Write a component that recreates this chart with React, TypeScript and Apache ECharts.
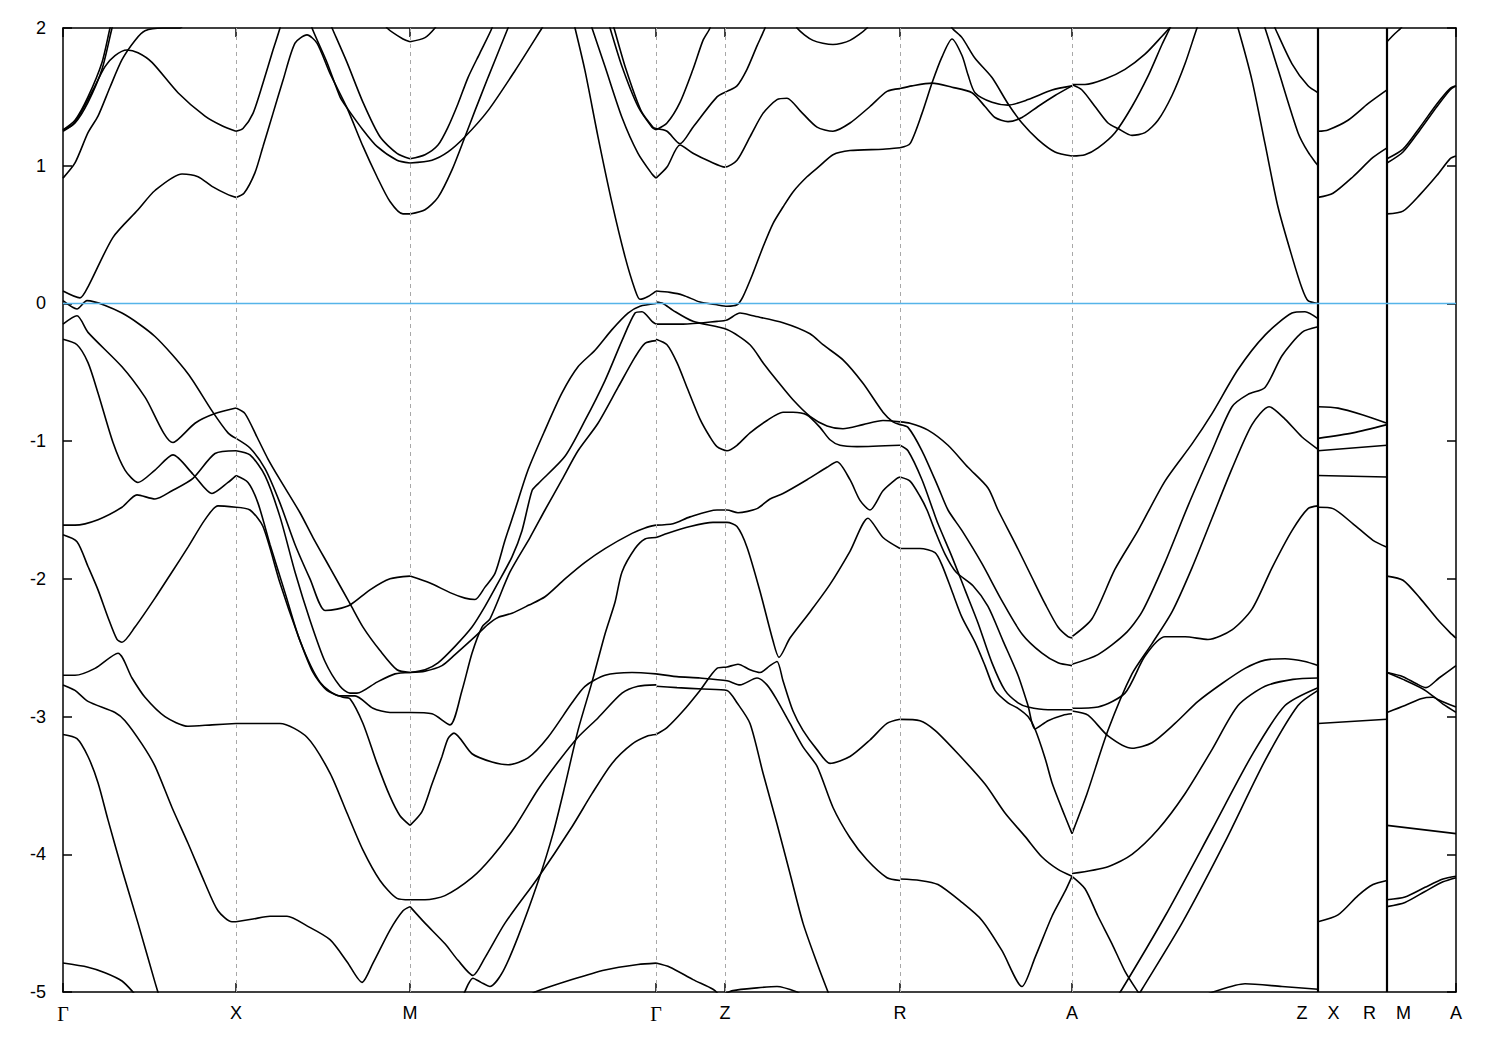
import React, { useEffect, useRef } from 'react';
import * as echarts from 'echarts';

// k-path distance (arbitrary units) of the high-symmetry points
const K_TICKS = [0, 173, 347, 593, 662, 837, 1009, 1255, 1324, 1393];
const K_LABELS = ['Γ', 'X', 'M', 'Γ', 'Z', 'R', 'A', 'Z    X', 'R    M', 'A'];
const K_GRID = [173, 347, 593, 662, 837, 1009];
const K_BREAKS = [1255, 1324];
const E_MIN = -5;
const E_MAX = 2;
const E_FERMI = 0;

// ---- bands: flat [k, E(eV), k, E, ...] ----
// Γ-X
const gxC1 = [0,0.09, 17,0.04, 25,0.12, 50,0.48, 75,0.68, 92,0.82, 119,0.94, 135,0.92, 149,0.85, 165,0.79, 173,0.77];
const gxC2 = [0,0.91, 12,1.02, 25,1.24, 35,1.36, 47,1.57, 59,1.77, 72,1.91, 82,1.98, 100,2.0, 117,2.0, 125,2.1];
const gxC3 = [0,1.26, 10,1.30, 19,1.40, 30,1.55, 42,1.72, 52,1.80, 64,1.84, 75,1.82, 89,1.75, 115,1.53, 142,1.36, 159,1.29, 173,1.25];
const gxC4 = [0,1.26, 12,1.33, 25,1.50, 39,1.75, 47,2.0, 52,2.15];
const gxC5 = [0,1.25, 12,1.31, 25,1.46, 39,1.70, 49,2.0, 54,2.15];
const gxV1 = [0,0.02, 14,-0.04, 24,0.02, 59,-0.07, 92,-0.24, 125,-0.51, 149,-0.78, 165,-0.94, 173,-0.98];
const gxV2 = [0,-0.15, 14,-0.09, 25,-0.21, 59,-0.46, 82,-0.68, 110,-1.01, 132,-0.87, 152,-0.80, 173,-0.76];
const gxV3 = [0,-0.26, 14,-0.30, 25,-0.43, 35,-0.65, 50,-1.01, 62,-1.21, 75,-1.30, 92,-1.21, 110,-1.10, 130,-1.24, 149,-1.38, 165,-1.30, 173,-1.25];
const gxV4 = [0,-1.61, 12,-1.61, 35,-1.57, 59,-1.48, 74,-1.39, 92,-1.42, 109,-1.36, 130,-1.27, 152,-1.09, 173,-1.07];
const gxV5 = [0,-1.68, 14,-1.73, 25,-1.91, 35,-2.08, 45,-2.28, 54,-2.44, 59,-2.46, 72,-2.35, 92,-2.14, 109,-1.95, 125,-1.77, 142,-1.57, 155,-1.47, 173,-1.48];
const gxV6 = [0,-2.70, 12,-2.70, 32,-2.65, 55,-2.54, 69,-2.72, 82,-2.86, 102,-3.00, 125,-3.07, 149,-3.06, 173,-3.05];
const gxV7 = [0,-2.77, 12,-2.81, 25,-2.89, 52,-2.97, 62,-3.03, 79,-3.20, 92,-3.36, 109,-3.66, 125,-3.92, 142,-4.21, 155,-4.41, 169,-4.49, 173,-4.49];
const gxV8 = [0,-3.13, 14,-3.16, 25,-3.29, 35,-3.48, 45,-3.75, 59,-4.11, 75,-4.50, 92,-4.93, 97,-5.05];
const gxV9 = [0,-4.79, 25,-4.82, 42,-4.86, 59,-4.92, 70,-5.0, 75,-5.05];
// X-M
const xmC1 = [173,1.25, 180,1.27, 190,1.38, 200,1.60, 210,1.84, 217,2.0, 220,2.1];
const xmC2 = [173,0.77, 181,0.80, 192,0.95, 200,1.14, 210,1.38, 220,1.62, 232,1.89, 244,1.95, 254,1.89, 267,1.67, 284,1.42, 300,1.14, 314,0.92, 327,0.74, 340,0.65, 347,0.65];
const xmC3 = [248,2.05, 249,2.0, 264,1.75, 277,1.50, 284,1.42, 300,1.26, 314,1.14, 334,1.04, 347,1.02];
const xmC4 = [266,2.05, 269,2.0, 284,1.75, 300,1.46, 317,1.21, 334,1.09, 347,1.05];
const xmC5 = [322,2.05, 324,2.0, 340,1.92, 347,1.90];
const xmV1 = [173,-0.76, 182,-0.80, 194,-0.97, 205,-1.13, 217,-1.28, 237,-1.52, 250,-1.70, 267,-1.92, 287,-2.18, 300,-2.35, 317,-2.52, 334,-2.66, 347,-2.68];
const xmV2 = [173,-0.98, 187,-1.05, 202,-1.20, 217,-1.45, 232,-1.75, 247,-2.0, 262,-2.23, 274,-2.22, 287,-2.19, 307,-2.08, 327,-2.0, 347,-1.98];
const xmV3 = [173,-1.07, 187,-1.10, 202,-1.25, 217,-1.55, 232,-1.95, 247,-2.3, 262,-2.6, 277,-2.78, 287,-2.83, 294,-2.83, 314,-2.75, 332,-2.69, 347,-2.68];
const xmV4 = [173,-1.25, 185,-1.30, 195,-1.45, 207,-1.75, 222,-2.1, 237,-2.45, 257,-2.75, 277,-2.85, 292,-2.85, 310,-2.94, 327,-2.97, 347,-2.97];
const xmV5 = [173,-1.48, 187,-1.50, 200,-1.62, 217,-2.03, 234,-2.39, 250,-2.68, 264,-2.81, 280,-2.86, 287,-2.87, 300,-3.05, 314,-3.34, 327,-3.58, 337,-3.72, 347,-3.79];
const xmV6 = [173,-3.05, 190,-3.05, 217,-3.05, 244,-3.15, 267,-3.41, 284,-3.70, 300,-3.97, 317,-4.19, 334,-4.32, 347,-4.33];
const xmV7 = [173,-4.49, 190,-4.47, 207,-4.45, 224,-4.45, 244,-4.52, 267,-4.62, 284,-4.78, 299,-4.93, 310,-4.79, 327,-4.55, 340,-4.41, 347,-4.38];
// M-Γ
const mgC1 = [347,0.65, 362,0.68, 375,0.77, 389,0.97, 402,1.21, 412,1.40, 425,1.64, 445,2.0, 450,2.1];
const mgC2 = [347,1.05, 362,1.08, 375,1.15, 385,1.28, 395,1.45, 405,1.64, 417,1.82, 429,2.0, 433,2.1];
const mgC3 = [347,1.02, 369,1.04, 385,1.10, 402,1.21, 425,1.40, 452,1.69, 479,2.0, 485,2.07];
const mgC4 = [347,1.90, 362,1.93, 372,2.0, 376,2.05];
const mgC5 = [510,2.05, 512,2.0, 522,1.69, 535,1.21, 549,0.73, 562,0.34, 572,0.10, 577,0.03, 585,0.05, 593,0.09];
const mgC6 = [527,2.05, 529,2.0, 542,1.72, 559,1.35, 575,1.09, 589,0.94, 593,0.91];
const mgC7 = [545,2.05, 547,2.0, 559,1.72, 575,1.43, 589,1.28, 593,1.26];
const mgC8 = [549,2.05, 551,2.0, 563,1.70, 578,1.40, 590,1.28, 593,1.27];
const mgV1 = [347,-1.98, 367,-2.03, 387,-2.10, 402,-2.14, 412,-2.15, 422,-2.06, 432,-1.96, 442,-1.72, 452,-1.50, 465,-1.21, 482,-0.92, 499,-0.65, 515,-0.46, 532,-0.34, 549,-0.19, 565,-0.07, 577,-0.02, 593,0.0];
const mgV2 = [347,-2.68, 362,-2.66, 375,-2.61, 392,-2.49, 409,-2.35, 422,-2.2, 435,-2.03, 449,-1.84, 459,-1.65, 469,-1.36, 475,-1.31, 502,-1.11, 522,-0.85, 542,-0.56, 559,-0.27, 572,-0.07, 579,-0.06, 589,-0.13, 593,-0.15];
const mgV3 = [347,-2.97, 369,-2.98, 387,-3.06, 399,-2.81, 409,-2.54, 419,-2.35, 427,-2.29, 447,-1.95, 467,-1.70, 482,-1.50, 499,-1.28, 515,-1.07, 535,-0.87, 555,-0.61, 572,-0.39, 582,-0.29, 593,-0.27];
const mgV4 = [347,-2.68, 362,-2.67, 379,-2.63, 392,-2.55, 412,-2.42, 425,-2.33, 435,-2.28, 449,-2.25, 466,-2.19, 482,-2.13, 502,-2.0, 522,-1.88, 542,-1.78, 569,-1.67, 582,-1.63, 593,-1.61];
const mgV5 = [347,-3.79, 359,-3.69, 369,-3.49, 379,-3.29, 385,-3.16, 391,-3.12, 409,-3.27, 429,-3.33, 445,-3.35, 465,-3.30, 485,-3.15, 509,-2.90, 522,-2.78, 542,-2.70, 569,-2.68, 593,-2.69];
const mgV6 = [347,-4.33, 362,-4.33, 382,-4.30, 409,-4.17, 429,-4.02, 452,-3.80, 475,-3.53, 495,-3.33, 515,-3.15, 535,-3.01, 559,-2.83, 575,-2.78, 593,-2.77];
const mgV7 = [399,-5.05, 410,-4.90, 418,-4.93, 427,-4.96, 440,-4.85, 455,-4.60, 475,-4.20, 490,-3.85, 502,-3.50, 515,-3.10, 529,-2.75, 542,-2.40, 552,-2.17, 559,-1.95, 572,-1.78, 582,-1.71, 593,-1.70];
const mgV8 = [347,-4.38, 362,-4.50, 382,-4.65, 395,-4.77, 410,-4.88, 422,-4.75, 442,-4.50, 475,-4.17, 509,-3.80, 529,-3.56, 549,-3.34, 569,-3.20, 585,-3.14, 593,-3.13];
const mgV9 = [465,-5.03, 472,-5.0, 509,-4.91, 542,-4.84, 575,-4.80, 593,-4.79];
// Γ-Z-R
const gzC1 = [593,0.09, 607,0.08, 620,0.06, 637,0.01, 654,-0.01, 664,-0.02, 674,-0.01, 680,0.05, 690,0.22, 700,0.41, 710,0.58, 720,0.70, 730,0.81, 744,0.92, 757,1.00, 770,1.08, 787,1.11, 820,1.12, 837,1.13];
const gzC2 = [593,0.91, 604,0.99, 617,1.15, 630,1.09, 647,1.03, 662,0.99, 674,1.04, 687,1.21, 700,1.38, 714,1.48, 724,1.49, 737,1.40, 754,1.28, 770,1.25, 787,1.31, 807,1.43, 824,1.54, 837,1.56];
const gzC3 = [593,1.27, 604,1.25, 617,1.16, 630,1.28, 654,1.50, 664,1.54, 674,1.58, 684,1.70, 694,1.87, 702,2.0, 706,2.1];
const gzC4 = [593,1.26, 604,1.31, 617,1.46, 630,1.70, 640,1.91, 647,2.0, 650,2.1];
const gzC5 = [733,2.05, 734,2.0, 750,1.91, 770,1.88, 787,1.91, 804,2.0, 806,2.05];
const gzV1 = [593,0.01, 600,0.0, 610,-0.05, 630,-0.13, 664,-0.19, 687,-0.30, 700,-0.43, 714,-0.56, 730,-0.70, 747,-0.82, 764,-0.89, 780,-0.91, 800,-0.88, 820,-0.85, 837,-0.86];
const gzV2 = [593,-0.15, 620,-0.15, 654,-0.13, 664,-0.12, 677,-0.07, 690,-0.09, 720,-0.14, 747,-0.22, 760,-0.30, 780,-0.41, 800,-0.58, 820,-0.79, 830,-0.86, 837,-0.88];
const gzV3 = [593,-0.26, 604,-0.30, 614,-0.43, 624,-0.61, 637,-0.84, 647,-0.97, 654,-1.04, 664,-1.07, 674,-1.03, 687,-0.94, 704,-0.85, 720,-0.79, 730,-0.79, 744,-0.81, 757,-0.90, 767,-0.99, 777,-1.03, 794,-1.04, 837,-1.03];
const gzV4 = [593,-1.61, 610,-1.60, 627,-1.55, 654,-1.50, 664,-1.50, 675,-1.52, 694,-1.49, 707,-1.42, 720,-1.38, 744,-1.28, 764,-1.19, 774,-1.15, 787,-1.28, 797,-1.43, 807,-1.50, 820,-1.36, 834,-1.27, 837,-1.26];
const gzV5 = [593,-1.70, 604,-1.67, 627,-1.62, 650,-1.59, 664,-1.59, 674,-1.62, 684,-1.77, 697,-2.09, 710,-2.45, 716,-2.57, 727,-2.43, 747,-2.24, 767,-2.04, 787,-1.80, 805,-1.56, 820,-1.70, 837,-1.78];
const gzV6 = [593,-3.13, 604,-3.08, 620,-2.96, 637,-2.81, 654,-2.65, 664,-2.64, 675,-2.62, 687,-2.66, 697,-2.68, 707,-2.63, 714,-2.60, 720,-2.74, 730,-2.96, 740,-3.10, 754,-3.24, 767,-3.34, 787,-3.29, 807,-3.17, 824,-3.05, 837,-3.02];
const gzV7 = [593,-2.69, 614,-2.71, 637,-2.72, 664,-2.74, 677,-2.77, 694,-2.72, 704,-2.77, 714,-2.88, 727,-3.05, 740,-3.22, 754,-3.36, 770,-3.66, 787,-3.88, 804,-4.04, 824,-4.17, 837,-4.19];
const gzV8 = [593,-2.78, 614,-2.79, 640,-2.80, 664,-2.81, 674,-2.90, 687,-3.05, 700,-3.41, 714,-3.78, 727,-4.14, 740,-4.50, 754,-4.79, 765,-5.0, 768,-5.05];
const gzV9 = [593,-4.79, 607,-4.82, 630,-4.91, 650,-4.98, 656,-5.02];
const gzV10 = [660,-5.02, 670,-4.99, 694,-4.97, 714,-4.96, 734,-5.0, 740,-5.03];
// R-A
const raC1 = [837,1.56, 849,1.58, 869,1.60, 889,1.57, 909,1.53, 922,1.43, 932,1.35, 945,1.32, 959,1.35, 975,1.43, 992,1.51, 1009,1.58];
const raC2 = [837,1.13, 847,1.16, 859,1.38, 869,1.60, 879,1.79, 889,1.92, 899,1.80, 905,1.66, 912,1.53, 929,1.46, 945,1.44, 965,1.48, 989,1.55, 1009,1.58];
const raC3 = [886,2.05, 889,2.0, 899,1.93, 912,1.78, 929,1.64, 945,1.45, 959,1.31, 975,1.19, 992,1.10, 1009,1.07];
const raV1 = [837,-0.86, 847,-0.87, 865,-0.92, 885,-1.03, 905,-1.19, 925,-1.34, 935,-1.50, 952,-1.74, 969,-1.99, 982,-2.18, 995,-2.35, 1005,-2.42, 1009,-2.43];
const raV2 = [837,-0.88, 845,-0.90, 859,-1.07, 875,-1.33, 885,-1.50, 899,-1.65, 919,-1.89, 939,-2.16, 959,-2.40, 979,-2.54, 995,-2.61, 1009,-2.63];
const raV3 = [837,-1.03, 845,-1.07, 859,-1.28, 870,-1.50, 875,-1.60, 889,-1.84, 902,-2.08, 915,-2.32, 929,-2.61, 942,-2.81, 955,-2.90, 965,-2.93, 985,-2.95, 1009,-2.95];
const raV4 = [837,-1.26, 847,-1.29, 857,-1.40, 864,-1.50, 872,-1.65, 882,-1.82, 893,-1.95, 910,-2.05, 925,-2.2, 940,-2.45, 955,-2.7, 965,-2.92, 972,-3.09, 985,-3.03, 1000,-2.99, 1009,-2.98];
const raV5 = [837,-1.78, 857,-1.78, 872,-1.81, 879,-1.9, 889,-2.09, 899,-2.28, 912,-2.46, 922,-2.63, 932,-2.81, 945,-2.90, 955,-2.94, 965,-3.0, 972,-3.09, 982,-3.3, 989,-3.48, 999,-3.67, 1009,-3.85];
const raV6 = [837,-3.02, 857,-3.03, 872,-3.10, 895,-3.27, 922,-3.49, 942,-3.70, 962,-3.87, 979,-4.02, 995,-4.11, 1009,-4.16];
const raV7 = [837,-4.18, 857,-4.19, 875,-4.22, 899,-4.35, 919,-4.48, 939,-4.70, 959,-4.96, 972,-4.75, 989,-4.45, 1002,-4.27, 1009,-4.16];
// A-Z
const azC1 = [1009,1.59, 1022,1.59, 1042,1.63, 1062,1.70, 1082,1.81, 1099,1.94, 1109,2.02];
const azC2 = [1009,1.59, 1019,1.55, 1032,1.43, 1045,1.31, 1055,1.27, 1069,1.22, 1082,1.24, 1095,1.33, 1109,1.51, 1122,1.74, 1134,2.0, 1137,2.05];
const azC3 = [1009,1.07, 1022,1.08, 1035,1.13, 1052,1.24, 1069,1.43, 1085,1.65, 1099,1.88, 1107,2.0, 1110,2.05];
const azC4 = [1172,2.05, 1175,2.0, 1189,1.62, 1202,1.16, 1215,0.70, 1229,0.34, 1239,0.11, 1245,0.02, 1255,0.0];
const azC5 = [1199,2.05, 1202,2.0, 1215,1.70, 1235,1.24, 1245,1.10, 1255,1.00];
const azC6 = [1209,2.05, 1212,2.0, 1229,1.74, 1245,1.58, 1255,1.53];
const azV1 = [1009,-2.42, 1029,-2.29, 1052,-1.93, 1075,-1.65, 1102,-1.29, 1129,-1.02, 1149,-0.80, 1175,-0.48, 1202,-0.23, 1229,-0.07, 1242,-0.06, 1255,-0.11];
const azV2 = [1009,-2.62, 1035,-2.55, 1062,-2.40, 1079,-2.24, 1102,-1.88, 1125,-1.47, 1149,-1.07, 1169,-0.75, 1185,-0.66, 1202,-0.61, 1219,-0.38, 1239,-0.21, 1255,-0.17];
const azV3 = [1009,-3.85, 1024,-3.56, 1045,-3.10, 1069,-2.69, 1089,-2.47, 1109,-2.24, 1129,-1.92, 1149,-1.56, 1169,-1.20, 1189,-0.88, 1206,-0.75, 1222,-0.84, 1239,-0.97, 1255,-1.06];
const azV4 = [1009,-2.94, 1035,-2.93, 1062,-2.83, 1082,-2.56, 1102,-2.42, 1122,-2.42, 1145,-2.44, 1169,-2.37, 1189,-2.22, 1209,-1.92, 1229,-1.65, 1245,-1.49, 1255,-1.47];
const azV5 = [1009,-2.96, 1025,-2.99, 1045,-3.14, 1069,-3.23, 1089,-3.19, 1112,-3.05, 1135,-2.89, 1159,-2.76, 1182,-2.65, 1202,-2.59, 1222,-2.58, 1242,-2.60, 1255,-2.63];
const azV6 = [1009,-4.14, 1045,-4.09, 1069,-4.0, 1095,-3.82, 1122,-3.56, 1149,-3.24, 1175,-2.92, 1202,-2.78, 1230,-2.73, 1255,-2.72];
const azV7 = [1052,-5.05, 1059,-4.98, 1102,-4.45, 1149,-3.82, 1189,-3.28, 1222,-2.92, 1255,-2.79];
const azV8 = [1073,-5.05, 1079,-4.98, 1119,-4.50, 1162,-3.91, 1202,-3.32, 1235,-2.92, 1255,-2.81];
const azV9 = [1009,-4.16, 1022,-4.25, 1035,-4.45, 1049,-4.65, 1062,-4.85, 1075,-5.0, 1080,-5.05];
const azV10 = [1140,-5.03, 1150,-5.0, 1182,-4.94, 1219,-4.96, 1255,-4.98];
// X-R
const xr1 = [1255,1.25, 1265,1.26, 1285,1.33, 1305,1.45, 1324,1.55];
const xr2 = [1255,0.77, 1270,0.80, 1290,0.92, 1310,1.06, 1324,1.13];
const xr3 = [1255,-0.75, 1275,-0.76, 1300,-0.81, 1324,-0.87];
const xr4 = [1255,-0.98, 1290,-0.94, 1324,-0.88];
const xr5 = [1255,-1.07, 1324,-1.03];
const xr6 = [1255,-1.25, 1324,-1.26];
const xr7 = [1255,-1.48, 1270,-1.49, 1290,-1.60, 1310,-1.72, 1324,-1.77];
const xr8 = [1255,-3.05, 1324,-3.02];
const xr9 = [1255,-4.49, 1275,-4.44, 1295,-4.30, 1310,-4.22, 1324,-4.19];
// M-A
const ma1 = [1324,1.90, 1332,1.96, 1338,2.0, 1342,2.05];
const ma2 = [1324,1.05, 1340,1.12, 1357,1.28, 1374,1.45, 1387,1.56, 1393,1.58];
const ma3 = [1324,1.02, 1340,1.10, 1357,1.26, 1374,1.43, 1387,1.55, 1393,1.58];
const ma4 = [1324,0.65, 1340,0.67, 1357,0.79, 1374,0.93, 1387,1.05, 1393,1.07];
const ma5 = [1324,-1.98, 1340,-2.01, 1357,-2.14, 1374,-2.29, 1387,-2.39, 1393,-2.43];
const ma6 = [1324,-2.68, 1340,-2.71, 1353,-2.76, 1363,-2.79, 1376,-2.72, 1393,-2.63];
const ma7 = [1324,-2.68, 1340,-2.73, 1360,-2.80, 1376,-2.88, 1393,-2.93];
const ma8 = [1324,-2.97, 1342,-2.92, 1358,-2.87, 1370,-2.86, 1380,-2.91, 1393,-2.97];
const ma9 = [1324,-3.79, 1393,-3.85];
const ma10 = [1324,-4.33, 1342,-4.31, 1362,-4.24, 1380,-4.18, 1393,-4.16];
const ma11 = [1324,-4.38, 1342,-4.35, 1362,-4.27, 1380,-4.20, 1393,-4.17];

const BANDS = [
  gxC1, gxC2, gxC3, gxC4, gxC5, gxV1, gxV2, gxV3, gxV4, gxV5, gxV6, gxV7, gxV8, gxV9,
  xmC1, xmC2, xmC3, xmC4, xmC5, xmV1, xmV2, xmV3, xmV4, xmV5, xmV6, xmV7,
  mgC1, mgC2, mgC3, mgC4, mgC5, mgC6, mgC7, mgC8, mgV1, mgV2, mgV3, mgV4, mgV5, mgV6, mgV7, mgV8, mgV9,
  gzC1, gzC2, gzC3, gzC4, gzC5, gzV1, gzV2, gzV3, gzV4, gzV5, gzV6, gzV7, gzV8, gzV9, gzV10,
  raC1, raC2, raC3, raV1, raV2, raV3, raV4, raV5, raV6, raV7,
  azC1, azC2, azC3, azC4, azC5, azC6, azV1, azV2, azV3, azV4, azV5, azV6, azV7, azV8, azV9, azV10,
  xr1, xr2, xr3, xr4, xr5, xr6, xr7, xr8, xr9,
  ma1, ma2, ma3, ma4, ma5, ma6, ma7, ma8, ma9, ma10, ma11,
];

function pairs(flat: number[]): number[][] {
  const out: number[][] = [];
  for (let i = 0; i + 1 < flat.length; i += 2) out.push([flat[i], flat[i + 1]]);
  return out;
}

const K_MAX = K_TICKS[K_TICKS.length - 1];

export default function App() {
  const ref = useRef<HTMLDivElement>(null);
  useEffect(() => {
    if (!ref.current) return;
    const chart = echarts.init(ref.current, undefined, { renderer: 'svg' });
    const labelFont = 'Liberation Sans, Arial, sans-serif';
    const axisLineStyle = { color: '#000', width: 1.5 };
    const bandSeries = BANDS.map((b, i) => ({
      type: 'line',
      name: 'band' + i,
      data: pairs(b),
      showSymbol: false,
      symbol: 'none',
      smooth: 0.25,
      clip: true,
      silent: true,
      z: 3,
      lineStyle: { color: '#000', width: 1.6 },
    }));
    const option: any = {
      animation: false,
      backgroundColor: '#fff',
      grid: { left: 63, right: 44, top: 28, bottom: 58, containLabel: false },
      xAxis: [
        {
          type: 'value', min: 0, max: K_MAX, position: 'bottom',
          axisLine: { show: true, onZero: false, lineStyle: axisLineStyle },
          axisTick: { show: true, inside: true, length: 9, customValues: K_TICKS, lineStyle: axisLineStyle },
          axisLabel: {
            customValues: K_TICKS,
            margin: 12,
            color: '#000',
            fontSize: 18,
            fontFamily: labelFont,
            formatter: (v: number) => {
              const idx = K_TICKS.indexOf(Math.round(v));
              const t = idx >= 0 ? K_LABELS[idx] : '';
              return t === 'Γ' ? '{g|Γ}' : t;
            },
            rich: { g: { fontFamily: 'Liberation Serif, Times New Roman, serif', fontSize: 20, color: '#000' } },
          },
          splitLine: { show: false },
        },
        {
          type: 'value', min: 0, max: K_MAX, position: 'top',
          axisLine: { show: true, onZero: false, lineStyle: axisLineStyle },
          axisTick: { show: true, inside: true, length: 9, customValues: K_TICKS, lineStyle: axisLineStyle },
          axisLabel: { show: false },
          splitLine: { show: false },
        },
      ],
      yAxis: [
        {
          type: 'value', min: E_MIN, max: E_MAX, interval: 1, position: 'left',
          axisLine: { show: true, onZero: false, lineStyle: axisLineStyle },
          axisTick: { show: true, inside: true, length: 9, lineStyle: axisLineStyle },
          axisLabel: { color: '#000', fontSize: 18, fontFamily: labelFont, margin: 17 },
          splitLine: { show: false },
        },
        {
          type: 'value', min: E_MIN, max: E_MAX, interval: 1, position: 'right',
          axisLine: { show: true, onZero: false, lineStyle: axisLineStyle },
          axisTick: { show: true, inside: true, length: 9, lineStyle: axisLineStyle },
          axisLabel: { show: false },
          splitLine: { show: false },
        },
      ],
      series: [
        {
          type: 'line',
          name: 'grid',
          data: [],
          silent: true,
          z: 1,
          markLine: {
            silent: true,
            symbol: 'none',
            label: { show: false },
            lineStyle: { color: '#a8a8a8', width: 1, type: [4, 4] },
            data: K_GRID.map((k) => ({ xAxis: k })),
          },
        },
        ...bandSeries,
        ...K_BREAKS.map((k) => ({
          type: 'line',
          name: 'break' + k,
          data: [[k, E_MIN], [k, E_MAX]],
          showSymbol: false,
          symbol: 'none',
          silent: true,
          z: 4,
          lineStyle: { color: '#000', width: 2.2 },
        })),
        {
          type: 'line',
          name: 'fermi',
          data: [[0, E_FERMI], [K_MAX, E_FERMI]],
          showSymbol: false,
          symbol: 'none',
          silent: true,
          z: 5,
          lineStyle: { color: '#56b4e9', width: 1.6 },
        },
      ],
    };
    chart.setOption(option);
    return () => chart.dispose();
  }, []);
  return (
    <div
      ref={ref}
      style={{ position: 'absolute', left: 0, top: 0, width: 1500, height: 1050, background: '#fff' }}
    />
  );
}
